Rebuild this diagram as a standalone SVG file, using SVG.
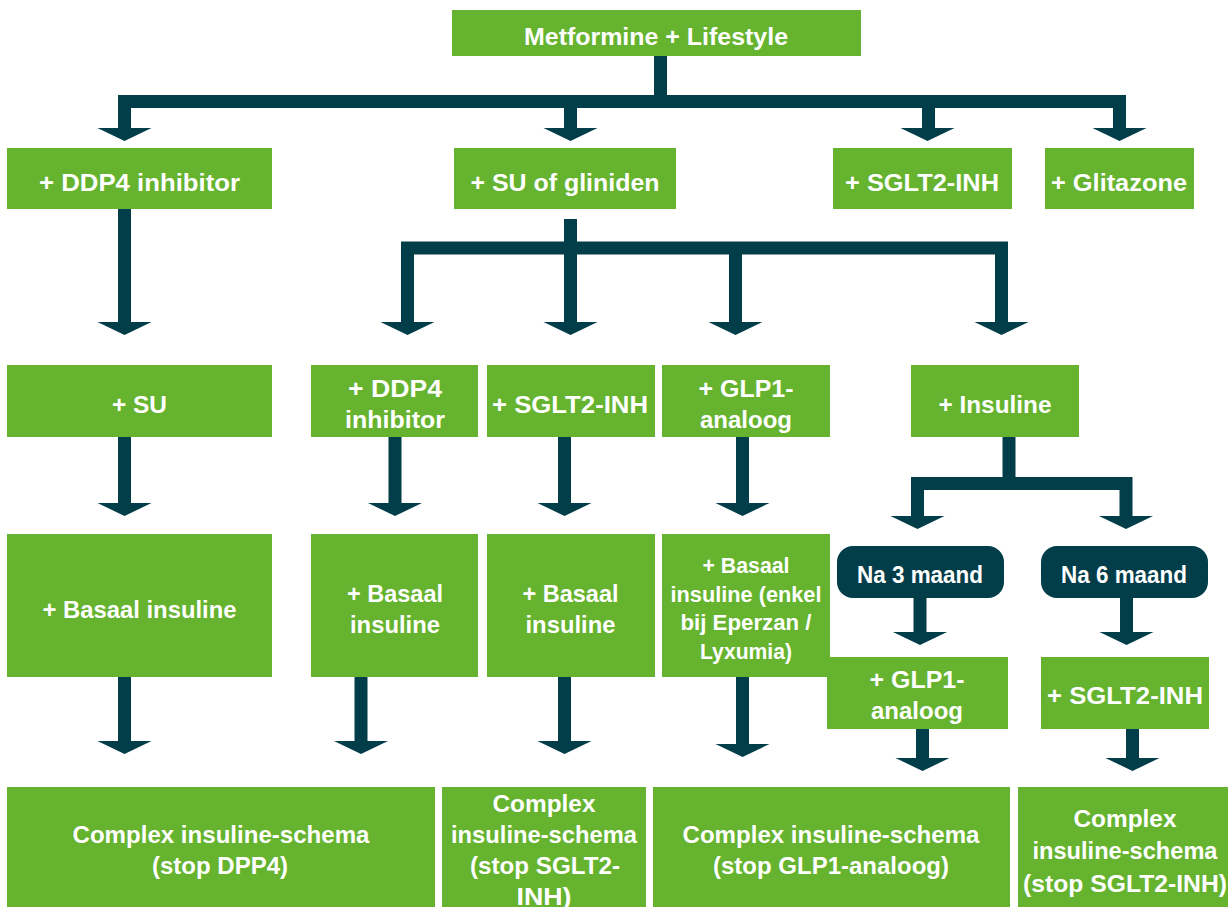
<svg xmlns="http://www.w3.org/2000/svg" xmlns:xlink="http://www.w3.org/1999/xlink" width="1230" height="907" viewBox="0 0 1230 907">
  <style>
    .box { fill: #65b32e; }
    .pill { fill: #023d4a; }
    .t { font-family: "Liberation Sans", Arial, sans-serif; font-weight: bold; font-size: 24px; fill: #ffffff; text-anchor: middle; }
    .s { font-size: 22px; }
    .ln { fill: none; stroke: #023d4a; stroke-width: 13; stroke-linecap: butt; stroke-linejoin: miter; }
    .hd { fill: #023d4a; }
  </style>
  <defs>
    <path id="head" d="M-27,0 L27,0 L0,13 Z"/>
  </defs>
  <rect width="1230" height="907" fill="#ffffff"/>

  <!-- connectors -->
  <g id="connectors">
    <!-- from Metformine -->
    <path class="ln" d="M660.5,56 V101.5"/>
    <path class="ln" d="M124.5,129 V101.5 H1119.5 V129"/>
    <path class="ln" d="M570.5,101.5 V129"/>
    <path class="ln" d="M928.5,101.5 V129"/>
    <use href="#head" class="hd" x="124.5" y="128"/>
    <use href="#head" class="hd" x="570.5" y="128"/>
    <use href="#head" class="hd" x="927.5" y="128"/>
    <use href="#head" class="hd" x="1119.5" y="128"/>

    <!-- DDP4 inhibitor -> SU -->
    <path class="ln" d="M124.5,209 V323"/>
    <use href="#head" class="hd" x="124.5" y="322"/>

    <!-- SU of gliniden split -->
    <path class="ln" d="M570.5,219 V323"/>
    <path class="ln" d="M407.5,323 V248 H1001.5 V323"/>
    <path class="ln" d="M735.5,248 V323"/>
    <use href="#head" class="hd" x="407.5" y="322"/>
    <use href="#head" class="hd" x="570.5" y="322"/>
    <use href="#head" class="hd" x="735.5" y="322"/>
    <use href="#head" class="hd" x="1001.5" y="322"/>

    <!-- row 3 to row 4 -->
    <path class="ln" d="M124.5,437 V504"/>
    <use href="#head" class="hd" x="124.5" y="503"/>
    <path class="ln" d="M395,437 V504"/>
    <use href="#head" class="hd" x="395" y="503"/>
    <path class="ln" d="M564.5,437 V504"/>
    <use href="#head" class="hd" x="564.5" y="503"/>
    <path class="ln" d="M742.5,437 V504"/>
    <use href="#head" class="hd" x="742.5" y="503"/>

    <!-- Insuline split -->
    <path class="ln" d="M1009,437 V483.5"/>
    <path class="ln" d="M917.5,517 V483.5 H1126 V517"/>
    <use href="#head" class="hd" x="917.5" y="516"/>
    <use href="#head" class="hd" x="1126" y="516"/>

    <!-- Na 3 / Na 6 maand -->
    <path class="ln" d="M920,598 V633"/>
    <use href="#head" class="hd" x="920" y="632"/>
    <path class="ln" d="M1126.5,598 V633"/>
    <use href="#head" class="hd" x="1126.5" y="632"/>

    <!-- row 4 to row 5 -->
    <path class="ln" d="M124.5,677 V742"/>
    <use href="#head" class="hd" x="124.5" y="741"/>
    <path class="ln" d="M361,677 V742"/>
    <use href="#head" class="hd" x="361" y="741"/>
    <path class="ln" d="M564.5,677 V742"/>
    <use href="#head" class="hd" x="564.5" y="741"/>
    <path class="ln" d="M742.5,677 V745"/>
    <use href="#head" class="hd" x="742.5" y="744"/>
    <path class="ln" d="M922.5,729 V759"/>
    <use href="#head" class="hd" x="922.5" y="758"/>
    <path class="ln" d="M1132.5,729 V759"/>
    <use href="#head" class="hd" x="1132.5" y="758"/>
  </g>

  <!-- level 1 -->
  <g id="metformine">
    <rect class="box" x="452" y="10" width="409" height="46"/>
    <text class="t" x="656" y="45" textLength="264" lengthAdjust="spacingAndGlyphs">Metformine + Lifestyle</text>
  </g>

  <!-- level 2 -->
  <g id="ddp4">
    <rect class="box" x="7" y="148" width="265" height="61"/>
    <text class="t" x="139.5" y="191" textLength="201" lengthAdjust="spacingAndGlyphs">+ DDP4 inhibitor</text>
  </g>
  <g id="su-gliniden">
    <rect class="box" x="454" y="148" width="222" height="61"/>
    <text class="t" x="565" y="191" textLength="189" lengthAdjust="spacingAndGlyphs">+ SU of gliniden</text>
  </g>
  <g id="sglt2">
    <rect class="box" x="833" y="148" width="179" height="61"/>
    <text class="t" x="922" y="191" textLength="154" lengthAdjust="spacingAndGlyphs">+ SGLT2-INH</text>
  </g>
  <g id="glitazone">
    <rect class="box" x="1045" y="148" width="149" height="61"/>
    <text class="t" x="1119" y="191" textLength="136" lengthAdjust="spacingAndGlyphs">+ Glitazone</text>
  </g>

  <!-- level 3 -->
  <g id="su">
    <rect class="box" x="7" y="365" width="265" height="72"/>
    <text class="t" x="139.5" y="413" textLength="55" lengthAdjust="spacingAndGlyphs">+ SU</text>
  </g>
  <g id="su-ddp4">
    <rect class="box" x="311" y="365" width="167" height="72"/>
    <text class="t" x="395" y="397" textLength="94" lengthAdjust="spacingAndGlyphs">+ DDP4</text>
    <text class="t" x="395" y="428" textLength="100" lengthAdjust="spacingAndGlyphs">inhibitor</text>
  </g>
  <g id="su-sglt2">
    <rect class="box" x="487" y="365" width="168" height="72"/>
    <text class="t" x="570" y="413" textLength="156" lengthAdjust="spacingAndGlyphs">+ SGLT2-INH</text>
  </g>
  <g id="su-glp1">
    <rect class="box" x="662" y="365" width="168" height="72"/>
    <text class="t" x="746" y="397" textLength="95" lengthAdjust="spacingAndGlyphs">+ GLP1-</text>
    <text class="t" x="746" y="428" textLength="92" lengthAdjust="spacingAndGlyphs">analoog</text>
  </g>
  <g id="su-insuline">
    <rect class="box" x="911" y="365" width="168" height="72"/>
    <text class="t" x="995" y="413" textLength="113" lengthAdjust="spacingAndGlyphs">+ Insuline</text>
  </g>

  <!-- level 4 -->
  <g id="basaal-1">
    <rect class="box" x="7" y="534" width="265" height="143"/>
    <text class="t" x="139.5" y="618" textLength="194" lengthAdjust="spacingAndGlyphs">+ Basaal insuline</text>
  </g>
  <g id="basaal-2">
    <rect class="box" x="311" y="534" width="167" height="143"/>
    <text class="t" x="395" y="602" textLength="96" lengthAdjust="spacingAndGlyphs">+ Basaal</text>
    <text class="t" x="395" y="633" textLength="90" lengthAdjust="spacingAndGlyphs">insuline</text>
  </g>
  <g id="basaal-3">
    <rect class="box" x="487" y="534" width="168" height="143"/>
    <text class="t" x="570.5" y="602" textLength="96" lengthAdjust="spacingAndGlyphs">+ Basaal</text>
    <text class="t" x="570.5" y="633" textLength="90" lengthAdjust="spacingAndGlyphs">insuline</text>
  </g>
  <g id="basaal-4">
    <rect class="box" x="662" y="534" width="168" height="143"/>
    <text class="t s" x="746" y="573" textLength="87" lengthAdjust="spacingAndGlyphs">+ Basaal</text>
    <text class="t s" x="746" y="602" textLength="151" lengthAdjust="spacingAndGlyphs">insuline (enkel</text>
    <text class="t s" x="746" y="630" textLength="131" lengthAdjust="spacingAndGlyphs">bij Eperzan /</text>
    <text class="t s" x="746" y="659" textLength="92" lengthAdjust="spacingAndGlyphs">Lyxumia)</text>
  </g>
  <g id="na-3-maand">
    <rect class="pill" x="837" y="546" width="167" height="52" rx="16" ry="16"/>
    <text class="t" x="920" y="583" textLength="126" lengthAdjust="spacingAndGlyphs">Na 3 maand</text>
  </g>
  <g id="na-6-maand">
    <rect class="pill" x="1041" y="546" width="167" height="52" rx="16" ry="16"/>
    <text class="t" x="1124" y="583" textLength="126" lengthAdjust="spacingAndGlyphs">Na 6 maand</text>
  </g>
  <g id="ins-glp1">
    <rect class="box" x="827" y="657" width="181" height="72"/>
    <text class="t" x="917" y="688" textLength="95" lengthAdjust="spacingAndGlyphs">+ GLP1-</text>
    <text class="t" x="917" y="719" textLength="92" lengthAdjust="spacingAndGlyphs">analoog</text>
  </g>
  <g id="ins-sglt2">
    <rect class="box" x="1041" y="657" width="168" height="72"/>
    <text class="t" x="1125" y="704" textLength="156" lengthAdjust="spacingAndGlyphs">+ SGLT2-INH</text>
  </g>

  <!-- level 5 -->
  <g id="complex-dpp4">
    <rect class="box" x="7" y="787" width="428" height="120"/>
    <text class="t" x="221" y="843" textLength="297" lengthAdjust="spacingAndGlyphs">Complex insuline-schema</text>
    <text class="t" x="220" y="874" textLength="136" lengthAdjust="spacingAndGlyphs">(stop DPP4)</text>
  </g>
  <g id="complex-sglt2">
    <rect class="box" x="442" y="787" width="204" height="120"/>
    <text class="t" x="544" y="812" textLength="103" lengthAdjust="spacingAndGlyphs">Complex</text>
    <text class="t" x="544" y="843" textLength="186" lengthAdjust="spacingAndGlyphs">insuline-schema</text>
    <text class="t" x="545" y="874" textLength="150" lengthAdjust="spacingAndGlyphs">(stop SGLT2-</text>
    <text class="t" x="544" y="905" textLength="55" lengthAdjust="spacingAndGlyphs">INH)</text>
  </g>
  <g id="complex-glp1">
    <rect class="box" x="653" y="787" width="357" height="120"/>
    <text class="t" x="831" y="843" textLength="297" lengthAdjust="spacingAndGlyphs">Complex insuline-schema</text>
    <text class="t" x="831" y="874" textLength="236" lengthAdjust="spacingAndGlyphs">(stop GLP1-analoog)</text>
  </g>
  <g id="complex-sglt2-ins">
    <rect class="box" x="1018" y="787" width="210" height="120"/>
    <text class="t" x="1125" y="827" textLength="103" lengthAdjust="spacingAndGlyphs">Complex</text>
    <text class="t" x="1125" y="859" textLength="185" lengthAdjust="spacingAndGlyphs">insuline-schema</text>
    <text class="t" x="1125" y="892" textLength="204" lengthAdjust="spacingAndGlyphs">(stop SGLT2-INH)</text>
  </g>
</svg>
